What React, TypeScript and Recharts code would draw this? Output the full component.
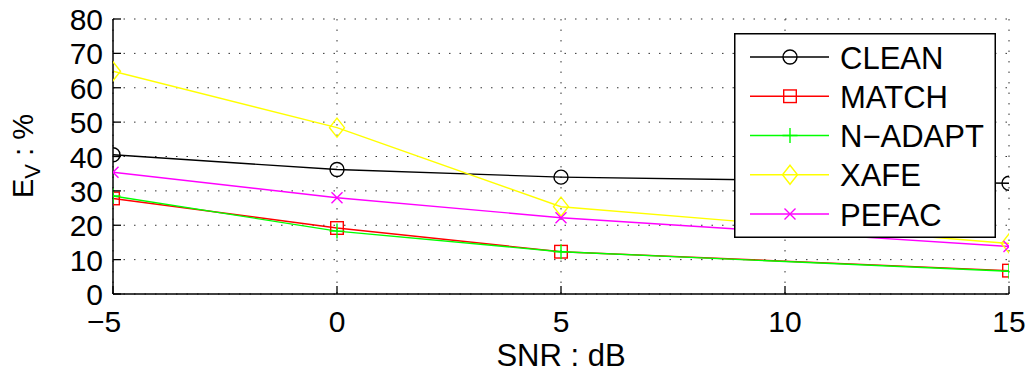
import React from 'react';
import { LineChart, Line, XAxis, YAxis, CartesianGrid, Legend } from 'recharts';

const snr = [-5, 0, 5, 15];
const clean = [40.5, 36.2, 34.0, 32.2];
const match = [27.8, 19.2, 12.3, 6.8];
const nadapt = [28.5, 18.3, 12.3, 6.6];
const xafe = [64.8, 48.4, 25.4, 14.7];
const pefac = [35.4, 28.0, 22.2, 13.8];

const xTicks = [-5, 0, 5, 10, 15];
const yTicks = [0, 10, 20, 30, 40, 50, 60, 70, 80];

type Shape = 'circle' | 'square' | 'plus' | 'diamond' | 'x';

const seriesDefs: { key: string; name: string; color: string; shape: Shape }[] = [
  { key: 'clean', name: 'CLEAN', color: '#000000', shape: 'circle' },
  { key: 'match', name: 'MATCH', color: '#ff0000', shape: 'square' },
  { key: 'nadapt', name: 'N\u2212ADAPT', color: '#00ff00', shape: 'plus' },
  { key: 'xafe', name: 'XAFE', color: '#ffff00', shape: 'diamond' },
  { key: 'pefac', name: 'PEFAC', color: '#ff00ff', shape: 'x' },
];

const data = snr.map((x, i) => ({
  x,
  clean: clean[i],
  match: match[i],
  nadapt: nadapt[i],
  xafe: xafe[i],
  pefac: pefac[i],
}));

const FONT = '"Liberation Sans", Arial, Helvetica, sans-serif';

function marker(shape: Shape, color: string, cx: number, cy: number, key?: any) {
  const sw = 1.4;
  switch (shape) {
    case 'circle':
      return <circle key={key} cx={cx} cy={cy} r={7} fill="none" stroke={color} strokeWidth={sw} />;
    case 'square':
      return <rect key={key} x={cx - 6.3} y={cy - 6.3} width={12.6} height={12.6} fill="none" stroke={color} strokeWidth={sw} />;
    case 'plus':
      return (
        <path key={key} d={`M${cx - 7.5},${cy}H${cx + 7.5}M${cx},${cy - 7.5}V${cy + 7.5}`} fill="none" stroke={color} strokeWidth={sw} />
      );
    case 'diamond':
      return (
        <path key={key} d={`M${cx},${cy - 9.5}L${cx + 7.5},${cy}L${cx},${cy + 9.5}L${cx - 7.5},${cy}Z`} fill="none" stroke={color} strokeWidth={sw} />
      );
    case 'x':
    default:
      return (
        <path key={key} d={`M${cx - 5.5},${cy - 5.5}L${cx + 5.5},${cy + 5.5}M${cx - 5.5},${cy + 5.5}L${cx + 5.5},${cy - 5.5}`} fill="none" stroke={color} strokeWidth={sw} />
      );
  }
}

const makeDot = (shape: Shape, color: string) => (props: any) => {
  const { cx, cy, index } = props;
  if (cx == null || cy == null) return <g key={`d-${index}`} />;
  return marker(shape, color, cx, cy, `d-${shape}-${index}`);
};

const BottomTick = (props: any) => {
  const { x, y, payload } = props;
  const v = payload.value;
  return (
    <g>
      <line x1={x} y1={y} x2={x} y2={y - 8} stroke="#000" strokeWidth={1.3} />
      <text x={x + (v < 0 ? -9 : 0)} y={y + 38} textAnchor="middle" fontFamily={FONT} fontSize={30} fill="#000">
        {v < 0 ? '\u2212' + Math.abs(v) : v}
      </text>
    </g>
  );
};

const TopTick = (props: any) => {
  const { x, y } = props;
  return <line x1={x} y1={y} x2={x} y2={y + 8} stroke="#000" strokeWidth={1.3} />;
};

const LeftTick = (props: any) => {
  const { x, y, payload } = props;
  return (
    <g>
      <line x1={x} y1={y} x2={x + 8} y2={y} stroke="#000" strokeWidth={1.3} />
      <text x={x - 10} y={y + 11} textAnchor="end" fontFamily={FONT} fontSize={30} fill="#000">
        {payload.value}
      </text>
    </g>
  );
};

const RightTick = (props: any) => {
  const { x, y } = props;
  return <line x1={x} y1={y} x2={x - 8} y2={y} stroke="#000" strokeWidth={1.3} />;
};

const LegendBox = () => {
  const w = 262;
  const h = 205;
  const ys = [24, 63.25, 102.5, 141.75, 181];
  return (
    <svg width={w} height={h} style={{ display: 'block' }}>
      <rect x={0.75} y={0.75} width={w - 1.5} height={h - 1.5} fill="#fff" stroke="#000" strokeWidth={1.5} />
      {seriesDefs.map((s, i) => (
        <g key={s.key}>
          <line x1={16} y1={ys[i]} x2={95} y2={ys[i]} stroke={s.color} strokeWidth={1.4} />
          {marker(s.shape, s.color, 56, ys[i])}
          <text x={106} y={ys[i] + 11.5} fontFamily={FONT} fontSize={31} fill="#000">
            {s.name}
          </text>
        </g>
      ))}
    </svg>
  );
};

export default function App() {
  return (
    <div style={{ position: 'absolute', left: 0, top: 0, width: 1032, height: 377, background: '#fff' }}>
      <LineChart width={1032} height={377} data={data} margin={{ top: 19, right: 23, left: 0, bottom: 0 }}>
        <CartesianGrid stroke="#333" strokeDasharray="1.5 9" strokeWidth={1} />
        <XAxis
          dataKey="x"
          type="number"
          domain={[-5, 15]}
          ticks={xTicks}
          allowDataOverflow
          height={83}
          tickSize={0}
          tickMargin={0}
          tickLine={false}
          axisLine={{ stroke: '#000', strokeWidth: 1.5 }}
          tick={<BottomTick />}
          interval={0}
        />
        <XAxis
          xAxisId="top"
          orientation="top"
          dataKey="x"
          type="number"
          domain={[-5, 15]}
          ticks={xTicks}
          allowDataOverflow
          height={0}
          tickSize={0}
          tickMargin={0}
          tickLine={false}
          axisLine={{ stroke: '#000', strokeWidth: 1.5 }}
          tick={<TopTick />}
          interval={0}
        />
        <YAxis
          type="number"
          domain={[0, 80]}
          ticks={yTicks}
          allowDataOverflow
          width={113}
          tickSize={0}
          tickMargin={0}
          tickLine={false}
          axisLine={{ stroke: '#000', strokeWidth: 1.5 }}
          tick={<LeftTick />}
          interval={0}
        />
        <YAxis
          yAxisId="right"
          orientation="right"
          type="number"
          domain={[0, 80]}
          ticks={yTicks}
          allowDataOverflow
          width={0}
          tickSize={0}
          tickMargin={0}
          tickLine={false}
          axisLine={{ stroke: '#000', strokeWidth: 1.5 }}
          tick={<RightTick />}
          interval={0}
        />
        {seriesDefs.map((s) => (
          <Line
            key={s.key}
            dataKey={s.key}
            name={s.name}
            type="linear"
            stroke={s.color}
            strokeWidth={1.4}
            dot={makeDot(s.shape, s.color)}
            activeDot={false}
            isAnimationActive={false}
          />
        ))}
        <Legend
          layout="vertical"
          align="center"
          verticalAlign="middle"
          content={() => <LegendBox />}
          wrapperStyle={{ position: 'absolute', left: 734, top: 33, width: 262, height: 205 }}
        />
        <text x={561} y={366} textAnchor="middle" fontFamily={FONT} fontSize={31} fill="#000">
          SNR : dB
        </text>
        <text
          x={33}
          y={156}
          textAnchor="middle"
          fontFamily={FONT}
          fontSize={29}
          fill="#000"
          transform="rotate(-90, 33, 156)"
        >
          E
          <tspan dy={7} fontSize={22}>V</tspan>
          <tspan dy={-7}> : %</tspan>
        </text>
      </LineChart>
    </div>
  );
}
